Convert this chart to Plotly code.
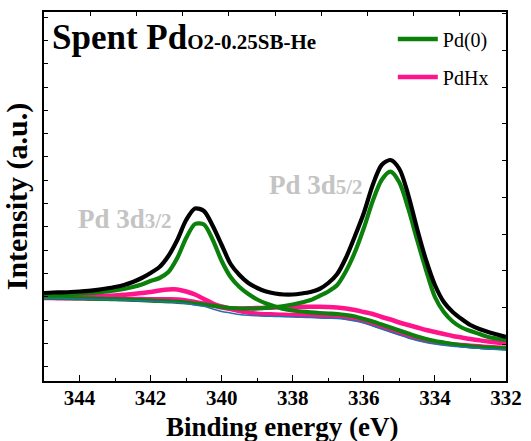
import plotly.graph_objects as go

# Binding energy sampling (eV)
energy = [345.0, 344.75, 344.5, 344.25, 344.0, 343.75, 343.5, 343.25, 343.0, 342.75,
          342.5, 342.25, 342.0, 341.75, 341.5, 341.25, 341.0, 340.75, 340.5, 340.25,
          340.0, 339.75, 339.5, 339.25, 339.0, 338.75, 338.5, 338.25, 338.0, 337.75,
          337.5, 337.25, 337.0, 336.75, 336.5, 336.25, 336.0, 335.75, 335.5, 335.25,
          335.0, 334.75, 334.5, 334.25, 334.0, 333.75, 333.5, 333.25, 333.0, 332.75,
          332.5, 332.25, 332.0]

# Measured envelope (a.u.)
envelope = [88, 88.5, 88.7, 89, 89.5, 90.2, 91.2, 92.5, 94, 96,
            99, 103, 108, 114, 125, 141, 161, 172.5, 170, 155,
            136, 117, 106, 98, 93, 89.5, 87.5, 86.5, 86.5, 87.5,
            89, 92, 98, 107, 123.5, 145, 168, 196, 216, 221,
            212, 186, 152, 121, 96, 79, 69, 62, 56, 52,
            49, 46.5, 44]

# Pd(0) 3d3/2 component
pd0_32 = [86, 86.3, 86.7, 87, 87.4, 87.8, 88.5, 89.5, 90.5, 92,
          94, 96.5, 100, 103, 109, 123, 143, 157, 156.5, 141,
          120, 104, 94, 87, 81.5, 77.5, 74.5, 72, 70.5, 69.5,
          68.7, 68, 67.5, 67, 66, 64.5, 62, 59.5, 56.5, 53.5,
          50.5, 47.5, 44.5, 42, 40, 38.5, 37, 35.7, 34.7, 34,
          33.4, 33, 32.7]

# Pd(0) 3d5/2 component
pd0_52 = [83.3, 83.2, 83.0, 82.8, 82.6, 82.4, 82.2, 82.0, 81.8, 81.6,
          81.2, 80.8, 80.4, 80.0, 79.6, 79.2, 78.5, 77.5, 76.5, 75.5,
          74, 73, 72.5, 72.5, 72.5, 73.2, 74, 75, 76.5, 78.5,
          81, 85, 89.5, 96, 110, 129, 153, 180, 201, 209.3,
          198.5, 172.5, 141, 111, 84, 69, 59.5, 53.5, 50, 47,
          44, 42.3, 41]

# PdHx 3d3/2 component
pdhx_32 = [84, 84.1, 84.2, 84.3, 84.5, 84.7, 85, 85.3, 85.5, 86.3,
           87, 88, 89, 90.5, 91.5, 91.5, 89.5, 86.5, 82, 77.5,
           74.5, 72, 70, 68.5, 67.2, 66.8, 66.5, 66.2, 66, 65.7,
           65.4, 65, 64.7, 64.5, 63.5, 62, 60, 57, 54, 51,
           48, 45, 42.5, 40.5, 39, 37.7, 36.7, 36, 35.3, 34.7,
           34, 33.5, 33]

# PdHx 3d5/2 component
pdhx_52 = [83, 82.9, 82.8, 82.7, 82.7, 82.6, 82.4, 82.3, 82.2, 82.1,
           82, 81.9, 81.8, 81.8, 81.7, 81.5, 80.5, 79, 77.5, 75.5,
           73.5, 72.5, 72.5, 72.7, 73, 73.2, 73.5, 73.8, 74, 74.2,
           74.3, 74.2, 74, 73.5, 72.5, 71, 69, 67, 64, 61.5,
           58.5, 56, 53.5, 51, 49, 47, 45, 43.5, 42, 40.7,
           39.5, 38.5, 37.7]

# Background
background = [82.7, 82.6, 82.4, 82.2, 82, 81.8, 81.6, 81.4, 81.2, 81,
              80.6, 80.2, 79.8, 79.4, 79, 78.5, 77.5, 76, 74.7, 72,
              69.5, 68, 66.5, 65.7, 65.2, 64.8, 64.5, 64.3, 64, 63.7,
              63.4, 63, 62.7, 62.5, 61.5, 60, 58, 55, 52, 49,
              46, 43, 40.5, 38.5, 37, 35.7, 34.7, 34, 33.3, 32.7,
              32, 31.5, 31]

x_ticks = [344, 342, 340, 338, 336, 334, 332]

GREEN = "#0b800b"
PINK = "#ff148c"
FONT = "Liberation Serif, serif"

fig = go.Figure()

def add(y, color, width):
    fig.add_trace(go.Scatter(x=energy, y=y, mode="lines", showlegend=False,
                             line=dict(color=color, width=width, shape="spline", smoothing=0.8),
                             hoverinfo="skip"))

add(pdhx_52, PINK, 4.5)
add(pdhx_32, PINK, 4.5)
add(pd0_32, GREEN, 4.2)
add(pd0_52, GREEN, 4.2)
add(background, "#2a6fa8", 1.5)
add(envelope, "#000000", 4.2)

# legend entries
fig.add_trace(go.Scatter(x=[None], y=[None], mode="lines", name="Pd(0)", legendgroup="a",
                         line=dict(color=GREEN, width=4.5)))
fig.add_trace(go.Scatter(x=[None], y=[None], mode="lines", name="PdHx", legendgroup="b",
                         line=dict(color=PINK, width=4.5)))

# dummy trace to carry the secondary (top/right) tick axes
fig.add_trace(go.Scatter(x=[None], y=[None], xaxis="x2", yaxis="y2",
                         showlegend=False, hoverinfo="skip"))

fig.update_layout(
    template="none",
    width=531, height=441,
    margin=dict(l=44, r=25, t=12, b=60),
    plot_bgcolor="white", paper_bgcolor="white",
    font=dict(family=FONT, color="black"),
    showlegend=True,
    legend=dict(x=0.755, y=0.98, xanchor="left", yanchor="top",
                bgcolor="rgba(0,0,0,0)", font=dict(family=FONT, size=20, color="black"),
                tracegroupgap=9, itemwidth=40),
    xaxis=dict(range=[345, 332], tickvals=x_ticks, ticktext=[f"<b>{v}</b>" for v in x_ticks],
               ticks="inside", ticklen=6, tickwidth=1.2, tickcolor="black",
               minor=dict(dtick=1, tick0=333, ticks="inside", ticklen=3.5, tickcolor="black",
                          showgrid=False),
               showline=True, linecolor="black", linewidth=1.5, mirror=True,
               showgrid=False, zeroline=False, automargin=False,
               ticklabelstandoff=-3,
               tickfont=dict(family=FONT, size=21, color="black")),
    yaxis=dict(range=[0, 369], tick0=14.4, dtick=23.3, ticks="inside", ticklen=4,
               tickcolor="black", showticklabels=False, automargin=False,
               showline=True, linecolor="black", linewidth=1.5, mirror=True,
               showgrid=False, zeroline=False,
               title=dict(text="<b>Intensity (a.u.)</b>", font=dict(family=FONT, size=30),
                          standoff=8)),
    xaxis2=dict(overlaying="x", side="top", range=[0, 10], dtick=1, ticks="inside",
                ticklen=4, tickcolor="black", showticklabels=False, showgrid=False,
                zeroline=False, showline=False, automargin=False),
    yaxis2=dict(overlaying="y", side="right", range=[0, 10.05], dtick=1, ticks="inside",
                ticklen=4, tickcolor="black", showticklabels=False, showgrid=False,
                zeroline=False, showline=False, automargin=False),
)

# x-axis title
fig.add_annotation(xref="paper", yref="paper", x=0.517, y=-0.124, xanchor="center", yanchor="middle",
                   showarrow=False, text="<b>Binding energy (eV)</b>",
                   font=dict(family=FONT, size=27, color="black"))

fig.add_annotation(xref="paper", yref="paper", x=0.012, y=0.93, xanchor="left", yanchor="middle",
                   showarrow=False,
                   text="<b>Spent Pd<span style='font-size:21px'>O2-0.25SB-He</span></b>",
                   font=dict(family=FONT, size=35, color="black"))
fig.add_annotation(xref="paper", yref="paper", x=0.069, y=0.44, xanchor="left", yanchor="middle",
                   showarrow=False,
                   text="<b>Pd 3d<span style='font-size:21px'>3/2</span></b>",
                   font=dict(family=FONT, size=27, color="#c4c4c4"))
fig.add_annotation(xref="paper", yref="paper", x=0.483, y=0.532, xanchor="left", yanchor="middle",
                   showarrow=False,
                   text="<b>Pd 3d<span style='font-size:21px'>5/2</span></b>",
                   font=dict(family=FONT, size=27, color="#c4c4c4"))

fig.write_html("out.html")
